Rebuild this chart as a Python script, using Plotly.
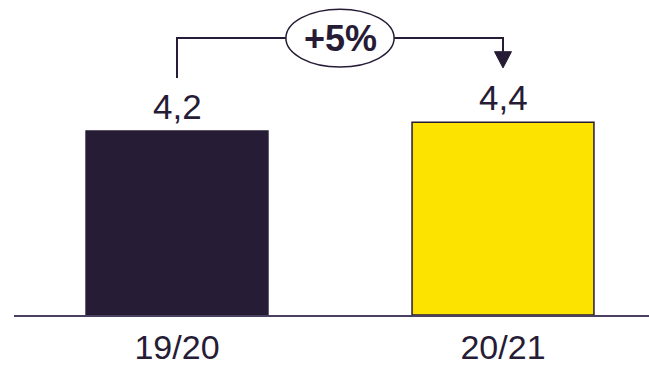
import plotly.graph_objects as go

# Season totals
seasons = ["19/20", "20/21"]
values = [4.2, 4.4]
bar_colors = ["#261c35", "#fce300"]

DARK = "#261c35"
FONT = "Liberation Sans, Arial, sans-serif"

W, H = 649, 366
plot_left, plot_right = 14, 649
plot_top, plot_bottom = 0, 315
y_max = 7.19

x_pos = list(range(len(seasons)))
labels = [f"{v:.1f}".replace(".", ",") for v in values]
growth = (values[1] / values[0] - 1) * 100
growth_text = f"+{growth:.0f}%"

fig = go.Figure()
fig.add_trace(go.Bar(
    x=x_pos,
    y=values,
    width=0.558,
    marker=dict(color=bar_colors, line=dict(color=DARK, width=1.5)),
    hoverinfo="skip",
))

# value labels above bars
for xi, v, lab in zip(x_pos, values, labels):
    fig.add_annotation(x=xi, y=v, text=lab, showarrow=False, yanchor="bottom",
                       yshift=3, font=dict(family=FONT, size=35, color=DARK))

# growth bracket: from the first label up, across, and down to the second label
y_line = 6.32
y_left_bottom = values[0] + 1.21
y_arrow_tip = values[1] + 1.24
head_h = 0.37
head_hw = 0.026

fig.add_shape(type="path",
              path=f"M {x_pos[0]},{y_left_bottom} L {x_pos[0]},{y_line} "
                   f"L {x_pos[1]},{y_line} L {x_pos[1]},{y_arrow_tip + head_h}",
              line=dict(color=DARK, width=2))
fig.add_shape(type="path",
              path=f"M {x_pos[1] - head_hw},{y_arrow_tip + head_h} "
                   f"L {x_pos[1] + head_hw},{y_arrow_tip + head_h} "
                   f"L {x_pos[1]},{y_arrow_tip} Z",
              fillcolor=DARK, line=dict(color=DARK, width=1))
mid = (x_pos[0] + x_pos[1]) / 2
fig.add_shape(type="circle", x0=mid - 0.166, x1=mid + 0.166,
              y0=y_line - 0.66, y1=y_line + 0.66,
              fillcolor="white", line=dict(color=DARK, width=1.5))
fig.add_annotation(x=mid, y=y_line, text=f"<b>{growth_text}</b>", showarrow=False,
                   font=dict(family=FONT, size=36, color=DARK))

px_per_x = 326
x0 = -(177 - plot_left) / px_per_x
x1 = x0 + (plot_right - plot_left) / px_per_x

fig.update_layout(
    width=W, height=H,
    margin=dict(l=plot_left, r=W - plot_right, t=plot_top, b=H - plot_bottom,
                autoexpand=False),
    paper_bgcolor="white", plot_bgcolor="white",
    showlegend=False,
    xaxis=dict(range=[x0, x1], tickmode="array", tickvals=x_pos, ticktext=seasons,
               showgrid=False, zeroline=False, showline=True, linecolor="#4a4160",
               linewidth=2, ticks="", ticklabelstandoff=1, automargin=False,
               tickfont=dict(family=FONT, size=34, color=DARK)),
    yaxis=dict(range=[0, y_max], visible=False, showgrid=False, zeroline=False,
               automargin=False),
)

fig.write_html("out.html")
